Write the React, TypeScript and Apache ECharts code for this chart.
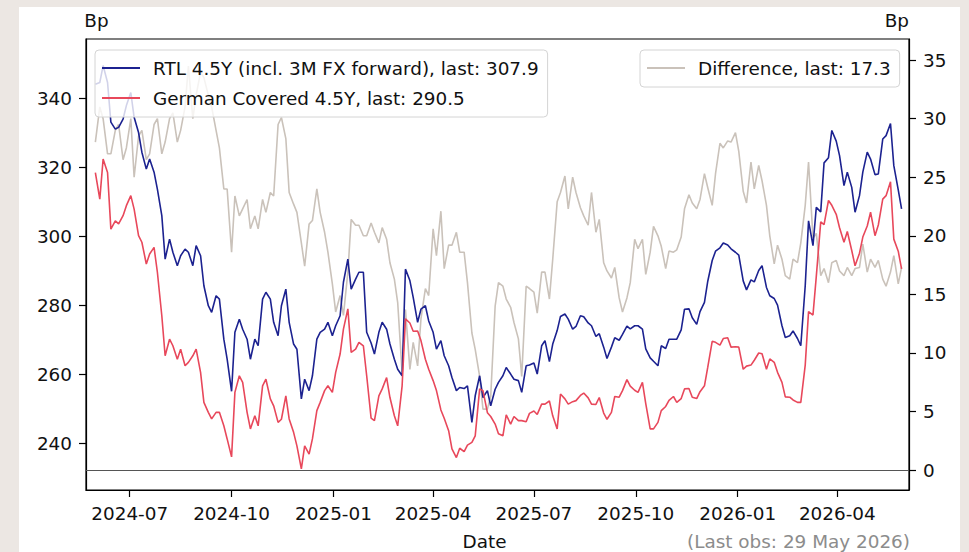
import React, { useEffect, useRef } from 'react';
import * as echarts from 'echarts';

const dates = [
  '2024-05-31', '2024-06-04', '2024-06-07', '2024-06-11', '2024-06-14', '2024-06-18', '2024-06-21', '2024-06-25',
  '2024-06-28', '2024-07-02', '2024-07-05', '2024-07-09', '2024-07-12', '2024-07-16', '2024-07-19', '2024-07-23',
  '2024-07-26', '2024-07-30', '2024-08-02', '2024-08-06', '2024-08-09', '2024-08-13', '2024-08-16', '2024-08-20',
  '2024-08-23', '2024-08-27', '2024-08-30', '2024-09-03', '2024-09-06', '2024-09-10', '2024-09-13', '2024-09-17',
  '2024-09-20', '2024-09-24', '2024-09-27', '2024-10-01', '2024-10-04', '2024-10-08', '2024-10-11', '2024-10-15',
  '2024-10-18', '2024-10-22', '2024-10-25', '2024-10-29', '2024-11-01', '2024-11-05', '2024-11-08', '2024-11-12',
  '2024-11-15', '2024-11-19', '2024-11-22', '2024-11-26', '2024-11-29', '2024-12-03', '2024-12-06', '2024-12-10',
  '2024-12-13', '2024-12-17', '2024-12-20', '2024-12-24', '2024-12-27', '2024-12-31',
  '2025-01-03', '2025-01-07', '2025-01-10', '2025-01-14', '2025-01-17', '2025-01-21', '2025-01-24', '2025-01-28',
  '2025-01-31', '2025-02-04', '2025-02-07', '2025-02-11', '2025-02-14', '2025-02-18', '2025-02-21', '2025-02-25',
  '2025-02-28', '2025-03-04', '2025-03-07', '2025-03-11', '2025-03-14', '2025-03-18', '2025-03-21', '2025-03-25',
  '2025-03-28', '2025-04-01', '2025-04-04', '2025-04-08', '2025-04-11', '2025-04-15', '2025-04-18', '2025-04-22',
  '2025-04-25', '2025-04-29', '2025-05-02', '2025-05-06', '2025-05-09', '2025-05-13', '2025-05-16', '2025-05-20',
  '2025-05-23', '2025-05-27', '2025-05-30', '2025-06-03', '2025-06-06', '2025-06-10', '2025-06-13', '2025-06-17',
  '2025-06-20', '2025-06-24', '2025-06-27', '2025-07-01', '2025-07-04', '2025-07-08', '2025-07-11', '2025-07-15',
  '2025-07-18', '2025-07-22', '2025-07-25', '2025-07-29', '2025-08-01', '2025-08-05', '2025-08-08', '2025-08-12',
  '2025-08-15', '2025-08-19', '2025-08-22', '2025-08-26', '2025-08-29', '2025-09-02', '2025-09-05', '2025-09-09',
  '2025-09-12', '2025-09-16', '2025-09-19', '2025-09-23', '2025-09-26', '2025-09-30', '2025-10-03', '2025-10-07',
  '2025-10-10', '2025-10-14', '2025-10-17', '2025-10-21', '2025-10-24', '2025-10-28', '2025-10-31', '2025-11-04',
  '2025-11-07', '2025-11-11', '2025-11-14', '2025-11-18', '2025-11-21', '2025-11-25', '2025-11-28', '2025-12-02',
  '2025-12-05', '2025-12-09', '2025-12-12', '2025-12-16', '2025-12-19', '2025-12-23', '2025-12-26', '2025-12-30',
  '2026-01-02', '2026-01-06', '2026-01-09', '2026-01-13', '2026-01-16', '2026-01-20', '2026-01-23', '2026-01-27',
  '2026-01-30', '2026-02-03', '2026-02-06', '2026-02-10', '2026-02-13', '2026-02-17', '2026-02-20', '2026-02-24',
  '2026-02-27', '2026-03-03', '2026-03-06', '2026-03-10', '2026-03-13', '2026-03-17', '2026-03-20', '2026-03-24',
  '2026-03-27', '2026-03-31', '2026-04-03', '2026-04-07', '2026-04-10', '2026-04-14', '2026-04-17', '2026-04-21',
  '2026-04-24', '2026-04-28', '2026-05-01', '2026-05-05', '2026-05-08', '2026-05-12', '2026-05-15', '2026-05-19',
  '2026-05-22', '2026-05-26', '2026-05-29',
];

const rtl = [
  344, 344.5, 349.4, 344.5, 333.0, 331.0, 331.5, 333.9, 337.8, 341.6, 334.4, 330.0, 324.3, 319.4, 322.3, 318.5,
  313.6, 305.9, 293.3, 299.1, 295.3, 291.4, 294.3, 296.2, 295.3, 291.4, 297.2, 294.3, 285.6, 279.8, 277.9, 282.7,
  281.7, 270.1, 264.3, 255.0, 272.1, 275.9, 273.0, 270.1, 264.3, 270.1, 268.2, 281.7, 283.7, 281.7, 275.0, 271.1,
  279.8, 284.6, 275.0, 268.7, 267.2, 252.8, 258.5, 255.2, 259.5, 270.1, 272.1, 273.0, 275.0, 271.1,
  274.0, 276.9, 286.6, 293.3, 284.6, 287.5, 289.5, 289.5, 272.1, 269.0, 265.8, 272.1, 275.0, 273.0, 268.7, 264.3,
  261.4, 259.5, 290.4, 287.1, 282.2, 275.0, 278.8, 279.8, 275.4, 272.1, 267.2, 269.7, 265.3, 262.4, 259.0, 255.2,
  256.1, 255.8, 256.6, 246.0, 253.7, 259.5, 253.2, 255.2, 250.8, 255.6, 257.6, 259.5, 261.9, 260.0, 258.5, 258.1,
  254.7, 262.4, 262.6, 263.2, 260.0, 268.2, 269.7, 263.6, 268.7, 272.6, 276.7, 277.4, 275.9, 273.0, 273.8, 276.9,
  276.6, 274.8, 274.0, 270.9, 271.7, 267.8, 264.5, 267.8, 270.5, 269.8, 271.5, 273.9, 273.1, 274.0, 274.0, 273.0,
  267.3, 264.7, 263.7, 262.4, 268.2, 267.4, 270.1, 270.1, 270.1, 272.8, 278.8, 278.9, 276.3, 274.4, 278.1, 280.8,
  286.9, 292.9, 295.6, 296.6, 298.0, 297.4, 296.3, 295.3,
  294.5, 287.0, 284.4, 287.3, 286.7, 290.0, 291.4, 285.1, 282.7, 281.9, 280.0, 274.0, 270.6, 271.1, 272.5, 270.3,
  268.2, 285.6, 304.4, 297.2, 308.3, 307.0, 321.2, 322.7, 330.6, 327.5, 323.3, 314.6, 318.5, 314.1, 306.9, 311.7,
  318.5, 324.3, 322.3, 317.8, 318.0, 328.1, 329.1, 332.6, 320.4, 313.4, 307.9,
];

const german = [
  318.4, 310.7, 322.3, 318.4, 302.0, 304.4, 303.5, 305.9, 308.8, 311.7, 307.8, 300.1, 298.2, 291.9, 294.8, 296.7,
  289.5, 276.9, 265.3, 270.1, 268.2, 264.3, 267.2, 262.4, 263.4, 265.3, 267.2, 260.5, 251.8, 248.9, 247.0, 248.9,
  248.9, 245.0, 241.2, 236.0, 254.7, 259.5, 257.6, 248.9, 244.1, 247.9, 245.0, 256.6, 258.5, 252.8, 250.8, 246.0,
  246.9, 253.7, 247.0, 243.1, 239.2, 232.5, 239.2, 236.8, 241.2, 249.4, 251.8, 255.2, 256.6, 254.7,
  260.5, 265.8, 273.0, 278.9, 266.3, 267.2, 269.2, 268.2, 259.5, 247.2, 246.5, 253.7, 255.7, 259.0, 253.2, 247.9,
  245.0, 256.6, 276.0, 274.8, 272.4, 272.5, 269.7, 264.3, 261.4, 258.1, 255.2, 249.6, 247.2, 243.6, 238.3, 235.8,
  238.5, 237.5, 239.4, 240.2, 242.1, 255.7, 255.2, 248.8, 247.7, 245.5, 242.7, 242.1, 248.2, 245.5, 247.7, 246.5,
  246.5, 246.2, 248.6, 249.3, 248.3, 251.3, 251.3, 252.2, 247.9, 244.1, 254.2, 252.8, 251.3, 252.0, 252.3, 253.8,
  254.5, 253.1, 251.3, 251.2, 253.2, 248.7, 246.9, 248.9, 253.5, 253.3, 255.2, 258.4, 256.5, 255.3, 254.7, 257.6,
  251.4, 244.1, 244.1, 246.0, 249.4, 250.6, 252.4, 253.5, 251.8, 252.9, 255.7, 255.8, 253.3, 252.9, 254.9, 256.6,
  262.0, 269.5, 269.2, 268.4, 270.3, 270.5, 267.8, 267.9,
  267.8, 261.4, 262.3, 262.6, 264.0, 266.1, 265.9, 261.4, 264.4, 263.4, 260.5, 257.6, 253.4, 253.3, 252.5, 251.8,
  251.8, 262.6, 278.1, 277.1, 288.3, 304.1, 303.3, 310.3, 308.9, 306.3, 302.4, 298.2, 301.3, 295.8, 291.4, 295.0,
  299.7, 302.9, 306.9, 300.1, 303.2, 310.7, 311.7, 315.7, 299.1, 295.6, 290.5,
];

const difference = [
  28.0, 31.0, 30.0, 27.0, 27.0, 29.0, 29.5, 26.5, 27.5, 30.0, 25.0, 28.5, 29.0, 26.5, 27.0, 29.5,
  30.0, 27.0, 28.0, 30.0, 30.5, 28.0, 29.0, 31.0, 34.5, 30.0, 32.0, 34.0, 33.5, 32.0, 31.0, 29.0,
  27.5, 24.0, 24.0, 18.6, 23.4, 21.7, 22.3, 23.1, 20.6, 21.7, 20.6, 23.1, 22.0, 23.7, 23.4, 29.5,
  30.1, 28.3, 23.7, 22.7, 22.0, 19.4, 17.4, 21.0, 21.3, 24.0, 22.0, 20.3, 18.6, 15.9,
  13.5, 14.9, 13.2, 16.9, 21.4, 20.9, 20.9, 20.0, 20.0, 21.1, 20.3, 19.4, 20.7, 19.7, 17.7, 16.3,
  14.3, 8.3, 13.7, 8.6, 10.9, 8.9, 12.9, 15.5, 14.9, 20.6, 18.3, 22.1, 17.2, 19.2, 19.2, 20.3,
  18.6, 18.6, 16.0, 11.7, 10.3, 8.0, 5.2, 5.2, 6.3, 14.0, 16.0, 15.7, 14.6, 13.9, 12.6, 11.2,
  8.0, 15.7, 15.5, 15.2, 13.4, 16.9, 16.9, 14.6, 18.0, 22.9, 23.7, 25.1, 22.3, 25.0, 23.7, 22.4,
  21.7, 20.9, 23.7, 20.3, 21.4, 17.7, 17.0, 16.4, 17.3, 14.7, 13.5, 14.7, 16.0, 19.7, 18.9, 19.7,
  16.7, 18.6, 20.8, 20.0, 19.1, 17.2, 18.7, 18.6, 18.8, 19.9, 22.3, 23.5, 22.8, 22.3, 23.1, 25.3,
  24.1, 22.6, 25.3, 27.9, 27.5, 28.1, 28.0, 28.8,
  27.2, 23.8, 22.8, 26.3, 24.0, 26.0, 24.7, 22.6, 20.0, 17.6, 19.2, 18.0, 16.6, 16.3, 18.0, 17.7,
  19.4, 22.6, 26.3, 19.8, 20.2, 16.6, 17.2, 16.0, 17.7, 17.9, 17.0, 16.6, 17.3, 16.6, 17.2, 17.3,
  19.3, 16.9, 18.0, 17.3, 17.9, 16.3, 15.7, 16.9, 18.3, 15.9, 17.3,
];

const xTickLabels = ['2024-07', '2024-10', '2025-01', '2025-04', '2025-07', '2025-10', '2026-01', '2026-04'];
const leftTicks = [240, 260, 280, 300, 320, 340];
const rightTicks = [0, 5, 10, 15, 20, 25, 30, 35];

const FONT = 'DejaVu Sans';
const FS = 18.4;
const BLUE = '#1c2290';
const RED = '#e8485b';
const GRAY = '#cac2ba';

function toTs(s: string): number {
  const p = s.split('-').map(Number);
  return new Date(p[0], p[1] - 1, p[2] || 1).getTime();
}

const last = (a: number[]) => a[a.length - 1].toFixed(1);
const rtlName = `RTL 4.5Y (incl. 3M FX forward), last: ${last(rtl)}`;
const germanName = `German Covered 4.5Y, last: ${last(german)}`;
const diffName = `Difference, last: ${last(difference)}`;

export default function App() {
  const ref = useRef<HTMLDivElement>(null);
  useEffect(() => {
    const chart = echarts.init(ref.current!, null, { renderer: 'svg' });
    const xTicks = xTickLabels.map((l) => toTs(l + '-01'));
    const legendCommon = {
      orient: 'vertical',
      top: 50,
      icon: 'rect',
      itemWidth: 38,
      itemHeight: 1.8,
      itemGap: 9,
      padding: [7.5, 9, 8.5, 7],
      backgroundColor: 'rgba(255,255,255,0.8)',
      borderColor: '#d4d4d4',
      borderWidth: 1,
      borderRadius: 4,
      selectedMode: false,
      textStyle: { fontSize: FS, color: '#111', fontFamily: FONT, padding: [0, 0, 0, 8], lineHeight: 21 },
    };
    const axisLabelBase = { fontSize: FS, color: '#111', fontFamily: FONT };
    const tickBase = { show: true, length: 7, inside: false, lineStyle: { color: '#000', width: 1.2 } };
    const option = {
      animation: false,
      backgroundColor: 'transparent',
      textStyle: { fontFamily: FONT },
      grid: { left: 86, right: 60, top: 39, bottom: 62, show: true, borderColor: '#000', borderWidth: 1.2, backgroundColor: 'transparent' },
      xAxis: {
        type: 'value',
        min: toTs('2024-05-22') + 13 * 3600e3,
        max: toTs('2026-06-04') + 17 * 3600e3,
        axisLine: { show: true, onZero: false, lineStyle: { color: '#000', width: 1.2 } },
        axisTick: { ...tickBase, customValues: xTicks },
        axisLabel: {
          ...axisLabelBase,
          margin: 14,
          customValues: xTicks,
          formatter: (v: number) => {
            const d = new Date(v);
            return `${d.getFullYear()}-${String(d.getMonth() + 1).padStart(2, '0')}`;
          },
        },
        splitLine: { show: false },
      },
      yAxis: [
        {
          type: 'value',
          position: 'left',
          min: 226.4,
          max: 357.1,
          axisLine: { show: true, lineStyle: { color: '#000', width: 1.2 } },
          axisTick: { ...tickBase, customValues: leftTicks },
          axisLabel: { ...axisLabelBase, margin: 14, customValues: leftTicks },
          splitLine: { show: false },
        },
        {
          type: 'value',
          position: 'right',
          min: -1.7,
          max: 36.8,
          axisLine: { show: true, lineStyle: { color: '#000', width: 1.2 } },
          axisTick: { ...tickBase, customValues: rightTicks },
          axisLabel: { ...axisLabelBase, margin: 14, customValues: rightTicks },
          splitLine: { show: false },
        },
      ],
      legend: [
        { ...legendCommon, left: 95, data: [rtlName, germanName] },
        { ...legendCommon, left: 640, data: [diffName] },
      ],
      graphic: [
        { type: 'text', left: 84.3, top: 11, style: { text: 'Bp', font: `${FS}px "${FONT}"`, fill: '#111' } },
        { type: 'text', right: 60, top: 11, style: { text: 'Bp', font: `${FS}px "${FONT}"`, fill: '#111' } },
        { type: 'text', left: 'center', top: 532, style: { text: 'Date', font: `${FS}px "${FONT}"`, fill: '#111' } },
        { type: 'text', right: 59, top: 532, style: { text: '(Last obs: 29 May 2026)', font: `${FS}px "${FONT}"`, fill: '#8c8c8c' } },
      ],
      series: [
        {
          name: diffName,
          type: 'line',
          yAxisIndex: 1,
          data: dates.map((d, i) => [toTs(d), difference[i]]),
          symbol: 'none',
          lineStyle: { color: GRAY, width: 1.6 },
          itemStyle: { color: GRAY },
          z: 2,
          markLine: {
            silent: true,
            symbol: 'none',
            label: { show: false },
            lineStyle: { color: '#555', width: 1, type: 'solid' },
            data: [{ yAxis: 0 }],
          },
        },
        {
          name: rtlName,
          type: 'line',
          yAxisIndex: 0,
          data: dates.map((d, i) => [toTs(d), rtl[i]]),
          symbol: 'none',
          lineStyle: { color: BLUE, width: 1.6 },
          itemStyle: { color: BLUE },
          z: 3,
        },
        {
          name: germanName,
          type: 'line',
          yAxisIndex: 0,
          data: dates.map((d, i) => [toTs(d), german[i]]),
          symbol: 'none',
          lineStyle: { color: RED, width: 1.6 },
          itemStyle: { color: RED },
          z: 3,
        },
      ],
    };
    chart.setOption(option as any);
    return () => chart.dispose();
  }, []);
  return (
    <div style={{ position: 'fixed', left: 0, top: 0, width: 969, height: 552, background: '#ece7e3', overflow: 'hidden' }}>
      <div style={{ position: 'absolute', left: 19, top: 7, width: 941, height: 545, background: '#ffffff' }} />
      <div ref={ref} style={{ position: 'absolute', left: 0, top: 0, width: 969, height: 552 }} />
    </div>
  );
}
